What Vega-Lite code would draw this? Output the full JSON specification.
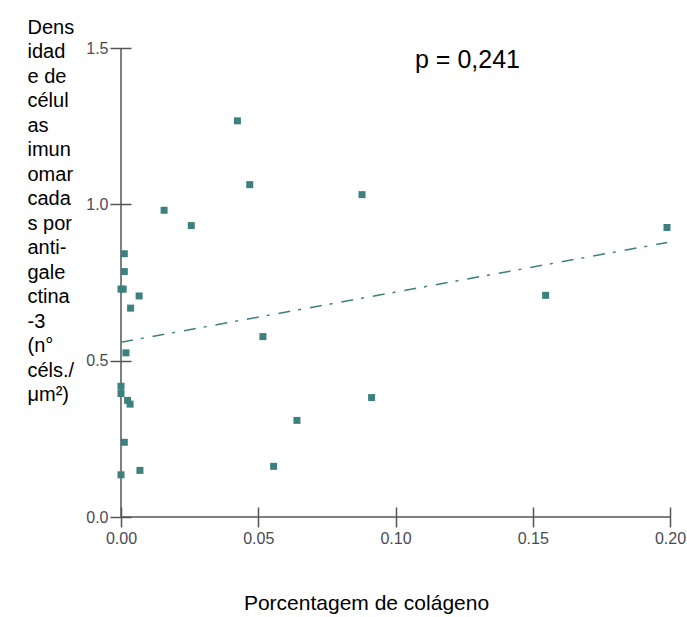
{
  "$schema": "https://vega.github.io/schema/vega-lite/v6.json",
  "width": 549,
  "height": 469,
  "autosize": {"type": "none"},
  "padding": {"left": 121, "top": 48, "right": 17, "bottom": 100},
  "background": "white",
  "config": {
    "view": {"stroke": null},
    "font": "Liberation Sans"
  },
  "datasets": {
    "pts": [
      {"colageno": 0.0424, "densidade": 1.267},
      {"colageno": 0.0469, "densidade": 1.063},
      {"colageno": 0.0157, "densidade": 0.981},
      {"colageno": 0.0256, "densidade": 0.932},
      {"colageno": 0.0878, "densidade": 1.031},
      {"colageno": 0.1989, "densidade": 0.926},
      {"colageno": 0.1547, "densidade": 0.709},
      {"colageno": 0.0517, "densidade": 0.577},
      {"colageno": 0.0913, "densidade": 0.382},
      {"colageno": 0.0641, "densidade": 0.309},
      {"colageno": 0.0012, "densidade": 0.842},
      {"colageno": 0.0012, "densidade": 0.785},
      {"colageno": 0.0, "densidade": 0.729},
      {"colageno": 0.0008, "densidade": 0.729},
      {"colageno": 0.0066, "densidade": 0.707},
      {"colageno": 0.0035, "densidade": 0.668},
      {"colageno": 0.0018, "densidade": 0.525},
      {"colageno": 0.0, "densidade": 0.418},
      {"colageno": 0.0, "densidade": 0.395},
      {"colageno": 0.0024, "densidade": 0.373},
      {"colageno": 0.0033, "densidade": 0.361},
      {"colageno": 0.0012, "densidade": 0.239},
      {"colageno": 0.0069, "densidade": 0.149},
      {"colageno": 0.0, "densidade": 0.135},
      {"colageno": 0.0556, "densidade": 0.162}
    ],
    "fit": [
      {"colageno": 0.0, "densidade": 0.559},
      {"colageno": 0.199, "densidade": 0.878}
    ],
    "eixos": [
      {"x0": 0, "x1": 0, "y0": 0, "y1": 1.5},
      {"x0": 0, "x1": 0.2, "y0": 0, "y1": 0}
    ],
    "note": [
      {"colageno": 0.1071, "densidade": 1.437, "label": "p = 0,241"}
    ]
  },
  "layer": [
    {
      "data": {"name": "eixos"},
      "mark": {"type": "rule", "color": "#555555", "strokeWidth": 1.5},
      "encoding": {
        "x": {"field": "x0", "type": "quantitative"},
        "x2": {"field": "x1"},
        "y": {"field": "y0", "type": "quantitative"},
        "y2": {"field": "y1"}
      }
    },
    {
      "data": {"name": "fit"},
      "mark": {"type": "line", "color": "#3d8080", "strokeWidth": 1.5, "strokeDash": [12, 8, 3, 9]},
      "encoding": {
        "x": {"field": "colageno", "type": "quantitative"},
        "y": {"field": "densidade", "type": "quantitative"}
      }
    },
    {
      "data": {"name": "pts"},
      "mark": {"type": "point", "shape": "square", "filled": true, "size": 49, "color": "#3d8080", "opacity": 1},
      "encoding": {
        "x": {
          "field": "colageno",
          "type": "quantitative",
          "scale": {"domain": [0, 0.2], "nice": false, "zero": true},
          "axis": {
            "title": "Porcentagem de colágeno",
            "values": [0, 0.05, 0.1, 0.15, 0.2],
            "format": ".2f",
            "offset": -10,
            "domain": false,
            "grid": false,
            "labelFlush": false,
            "tickSize": 20,
            "tickColor": "#555555",
            "tickWidth": 1.5,
            "labelPadding": 3,
            "labelFontSize": 16,
            "labelColor": "#4a4a55",
            "titleFontSize": 21,
            "titleFontWeight": "normal",
            "titleColor": "#000000",
            "titleAlign": "center",
            "titleBaseline": "top",
            "titleX": 245,
            "titleY": 85
          }
        },
        "y": {
          "field": "densidade",
          "type": "quantitative",
          "scale": {"domain": [0, 1.5], "nice": false, "zero": true},
          "axis": {
            "title": ["Dens", "idad", "e de", "célul", "as", "imun", "omar", "cada", "s por", "anti-", "gale", "ctina", "-3", "(n°", "céls./", "μm²)"],
            "values": [0, 0.5, 1.0, 1.5],
            "format": ".1f",
            "offset": -10,
            "domain": false,
            "grid": false,
            "labelFlush": false,
            "tickSize": 21,
            "tickColor": "#555555",
            "tickWidth": 1.5,
            "labelPadding": 2,
            "labelFontSize": 16,
            "labelColor": "#4a4a55",
            "titleFontSize": 20,
            "titleFontWeight": "normal",
            "titleColor": "#000000",
            "titleAngle": 0,
            "titleAlign": "left",
            "titleBaseline": "top",
            "titleLineHeight": 24.5,
            "titleX": -104,
            "titleY": -31
          }
        }
      }
    },
    {
      "data": {"name": "note"},
      "mark": {"type": "text", "align": "left", "baseline": "alphabetic", "fontSize": 25, "color": "#000000"},
      "encoding": {
        "x": {"field": "colageno", "type": "quantitative"},
        "y": {"field": "densidade", "type": "quantitative"},
        "text": {"field": "label"}
      }
    }
  ]
}
